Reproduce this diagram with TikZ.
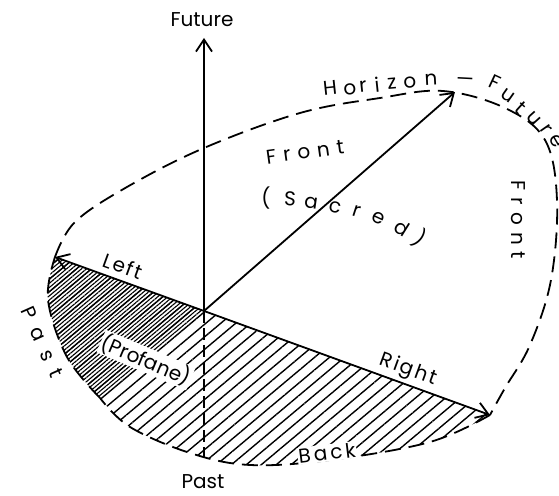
\documentclass[tikz,border=0pt]{standalone}
\usepackage{fontspec}
\setmainfont{Poppins}
\usetikzlibrary{arrows.meta,patterns.meta}

\begin{document}
\begin{tikzpicture}[x=0.5pt, y=-0.5pt,
    >={Straight Barb[length=6pt,width=8pt]},
    axis/.style={->, line width=0.9pt},
    horizon/.style={line width=0.9pt, dash pattern=on 8pt off 4pt},
    lbl/.style={font=\fontsize{10}{12}\selectfont, inner sep=0.5pt},
    wide/.style={lbl, font=\fontsize{10}{12}\selectfont\addfontfeature{LetterSpace=#1}},
    sparse/.style={pattern={Lines[angle=40,distance=4.8pt,line width=0.7pt]}},
    dense/.style={pattern={Lines[angle=40,distance=1.6pt,line width=0.55pt]}}
]
    \useasboundingbox (0,0) rectangle (559,496);

    % Points
    \coordinate (O) at (204,311);
    \coordinate (fut) at (204,38);
    \coordinate (pst) at (204,457);
    \coordinate (lft) at (55,257);
    \coordinate (rgt) at (490,415);
    \coordinate (frt) at (455,92);
    \coordinate (b1) at (100,398);

    % Hatching
    \path[sparse] (lft) -- (O) -- (rgt)
        -- plot[smooth, tension=0.6] coordinates {(rgt) (430,442) (330,460) (250,465) (190,453) (130,427) (b1)}
        -- plot[smooth, tension=0.6] coordinates {(b1) (67,357) (48,300) (lft)} -- cycle;
    \path[dense] (lft) -- (O) -- (b1)
        -- plot[smooth, tension=0.6] coordinates {(b1) (67,357) (48,300) (lft)} -- cycle;

    % Horizon
    \draw[horizon] plot[smooth, tension=0.6] coordinates {(lft) (75,222) (127,187) (204,148) (300,113) (380,98) (443,91) (505,108) (545,140) (557,200) (551,280) (530,345) (505,388) (rgt)};
    \draw[horizon] plot[smooth, tension=0.6] coordinates {(rgt) (430,442) (330,460) (250,465) (190,453) (130,427) (b1)};
    \draw[horizon] plot[smooth, tension=0.6] coordinates {(b1) (67,357) (48,300) (lft)};

    % Axes
    \draw[line width=0.9pt, dash pattern=on 6pt off 2.5pt] (O) -- (pst);
    \draw[axis] (O) -- (fut);
    \draw[axis] (O) -- (lft);
    \draw[axis] (O) -- (rgt);
    \draw[axis] (O) -- (frt);

    % Labels
    \node[lbl] (futlbl) at (202,20) {Future};
    \node[lbl] (pstlbl) at (203,482) {Past};
    \node[wide=10, rotate=-20] (lftlbl) at (123,266) {Left};
    \node[wide=10, rotate=-20] (rgtlbl) at (408,370) {Right};
    \node[wide=15, rotate=7, fill=white] (bcklbl) at (327,453) {Back};
    \node[lbl, rotate=-23, fill=white] (prflbl) at (146,360) {(Profane)};
    \node[wide=55, rotate=-66] (pastlbl) at (42,342) {Past};
    \node[wide=35, rotate=8] (frtlbl) at (305,152) {Front};
    \node[wide=35, rotate=-90] (frtside) at (518,220) {Front};

    \foreach \ch/\x/\y/\r [count=\i] in {{(}/266/198/0, S/290/199/-3, a/311/203/-8, c/335/207/-12, r/357/211/-18, e/378/218/-25, d/402/228/-32, {)}/420/239/-40}
        \node[lbl, rotate=\r] (sc\i) at (\x,\y) {\ch};

    \foreach \ch/\x/\y/\r [count=\i] in {H/330/88/6, o/350/89/6, r/363/87/6, i/377/85/6, z/392/84/5, o/410/83/4, n/431/80/3, —/465/82/-3, F/495/82/-25, u/508/96/-35, t/521/108/-42, u/534/119/-48, r/546/129/-55, e/556/141/-60}
        \node[lbl, rotate=\r] (hz\i) at (\x,\y) {\ch};
\end{tikzpicture}
\end{document}
